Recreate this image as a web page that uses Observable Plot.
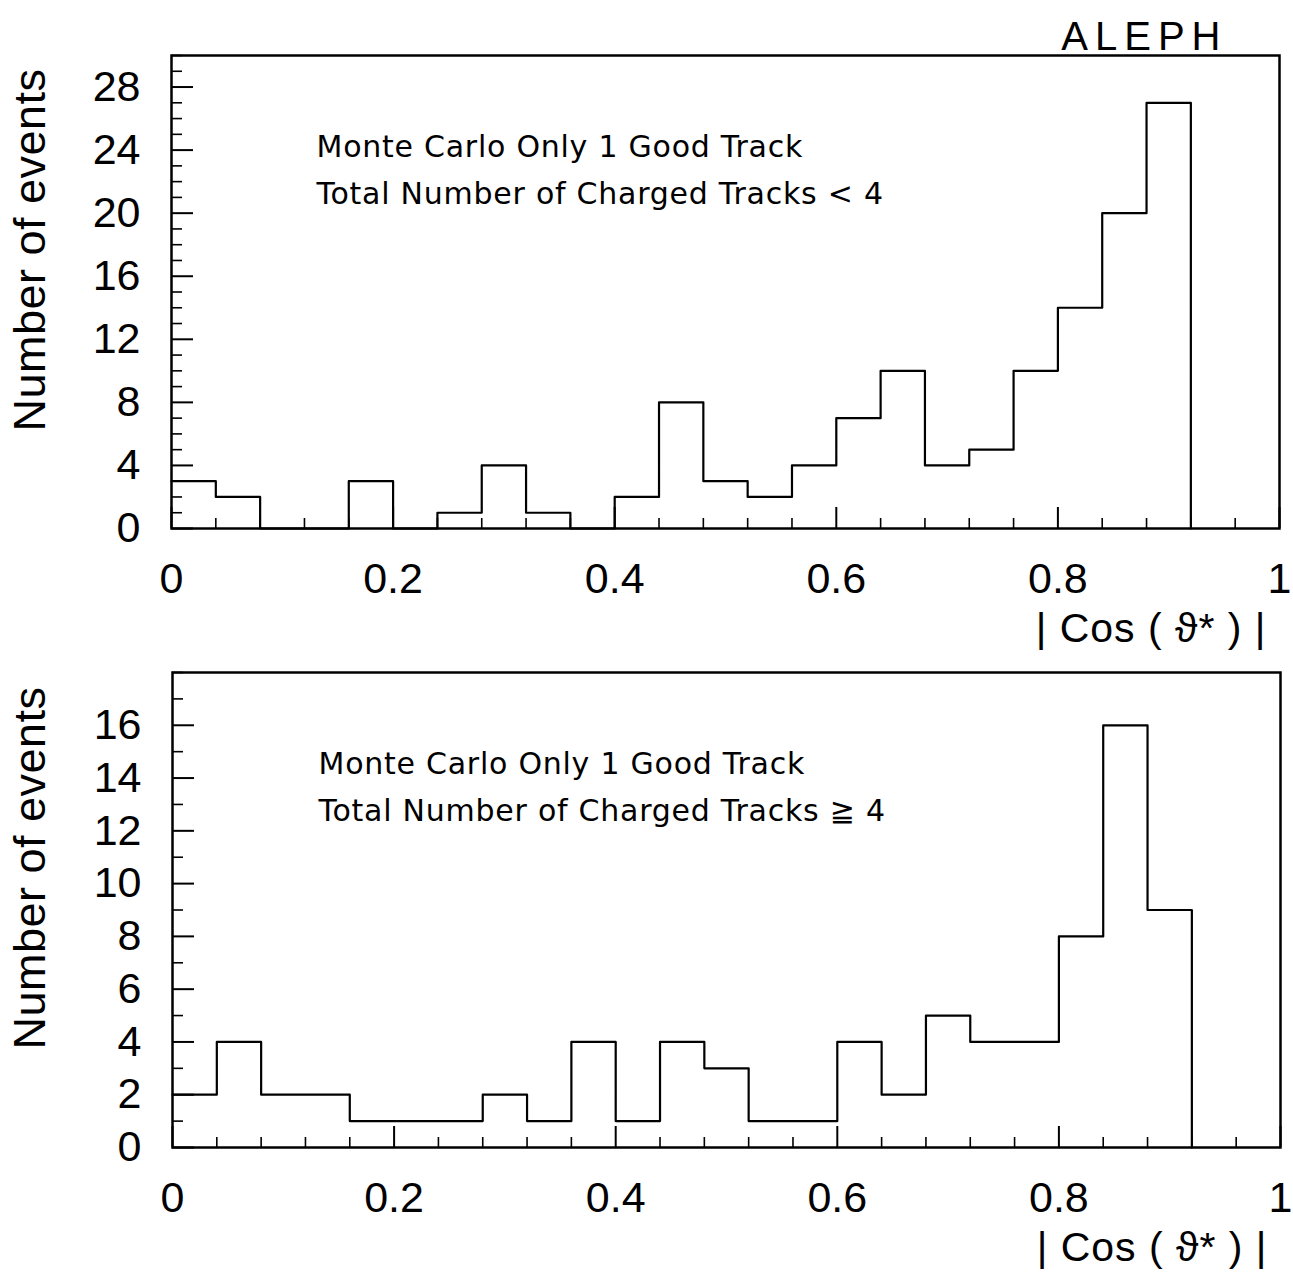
<!DOCTYPE html>
<html>
<head>
<meta charset="utf-8">
<script src="https://cdn.jsdelivr.net/npm/d3@7"></script>
<script src="https://cdn.jsdelivr.net/npm/@observablehq/plot@0.6"></script>
<style>
  html, body { margin: 0; padding: 0; background: #fff; }
  #wrap { width: 1293px; height: 1274px; position: relative; overflow: hidden; }
  #wrap svg { display: block; }
</style>
</head>
<body>
<div id="wrap"></div>
<script>
// ---- data ----
const binEdges = [0, 0.04, 0.08, 0.12, 0.16, 0.20, 0.24, 0.28, 0.32, 0.36, 0.40, 0.44,
                  0.48, 0.52, 0.56, 0.60, 0.64, 0.68, 0.72, 0.76, 0.80, 0.84, 0.88];
const upperEdge = 0.92;
const topCounts    = [3, 2, 0, 0, 3, 0, 1, 4, 1, 0, 2, 8, 3, 2, 4, 7, 10, 4, 5, 10, 14, 20, 27];
const bottomCounts = [2, 4, 2, 2, 1, 1, 1, 2, 1, 4, 1, 4, 3, 1, 1, 4, 2, 5, 4, 4, 8, 16, 9];
const xTickLabels = [0, 0.2, 0.4, 0.6, 0.8, 1];
const topYLabels = [0, 4, 8, 12, 16, 20, 24, 28];
const bottomYLabels = [0, 2, 4, 6, 8, 10, 12, 14, 16];
const topText = "Monte Carlo Only 1 Good Track\nTotal Number of Charged Tracks < 4";
const bottomText = "Monte Carlo Only 1 Good Track\nTotal Number of Charged Tracks \u2267 4";
const yTitle = "Number of events";
const xTitle = "| Cos ( \u03d1* ) |";
const experiment = "ALEPH";

function histData(counts) {
  return binEdges.map((x, i) => ({x, y: counts[i]})).concat([{x: upperEdge, y: 0}]);
}

function panel(o) {
  const W = 1293;
  const pw = W - o.ml - o.mr;
  const ph = o.height - o.mt - o.mb;
  const xMinor = d3.range(0, 1.0001, 0.04).filter(v => Math.abs(v / 0.2 - Math.round(v / 0.2)) > 1e-6);
  const yMinor = d3.range(0, o.yMax + 0.001, 1).filter(v => !o.yMajor.includes(v));
  const marks = [
    Plot.frame({stroke: "#000", strokeWidth: 2.5}),
    Plot.axisY({ticks: o.yMajor, tickSize: 0, tickPadding: 31, fontSize: 43, label: null, tickFormat: d3.format("d")}),
    Plot.axisX({ticks: xTickLabels, tickSize: 0, tickPadding: 34, fontSize: 43, label: null, tickFormat: d => String(d)}),
    Plot.tickY(o.yMajor, {y: d => d, stroke: "#000", strokeWidth: 2, insetRight: pw - 22}),
    Plot.tickY(yMinor, {y: d => d, stroke: "#000", strokeWidth: 1.6, insetRight: pw - 11}),
    Plot.tickX(xTickLabels, {x: d => d, stroke: "#000", strokeWidth: 2, insetTop: ph - 21}),
    Plot.tickX(xMinor, {x: d => d, stroke: "#000", strokeWidth: 1.6, insetTop: ph - 10}),
    Plot.line(histData(o.counts), {x: "x", y: "y", curve: "step-after", stroke: "#000", strokeWidth: 2.2}),
    Plot.text([o.note], {text: d => d, frameAnchor: "top-left", textAnchor: "start", lineAnchor: "top",
      dx: o.noteDx, dy: 68, fontSize: 30, lineHeight: 1.57, fontFamily: "DejaVu Sans", fill: "#000"}),
    Plot.text([yTitle], {text: d => d, frameAnchor: "left", textAnchor: "middle", lineAnchor: "middle",
      rotate: -90, dx: -(o.ml - 30), dy: -42, fontSize: 45, fill: "#000"}),
    Plot.text([xTitle], {text: d => d, frameAnchor: "bottom-right", textAnchor: "end", lineAnchor: "top",
      dx: -13, dy: 84, fontSize: 41, fill: "#000"})
  ];
  if (o.aleph) {
    marks.push(Plot.text([experiment], {text: d => d, frameAnchor: "top-right", textAnchor: "end", lineAnchor: "bottom",
      dx: -52, dy: -6, fontSize: 40, fill: "#000"}));
  }
  const svg = Plot.plot({
    width: W,
    height: o.height,
    marginTop: o.mt, marginBottom: o.mb, marginLeft: o.ml, marginRight: o.mr,
    x: {domain: [0, 1]},
    y: {domain: [0, o.yMax]},
    style: {fontFamily: "Liberation Sans, Arial, sans-serif", fontSize: "43px", color: "#000", background: "#fff"},
    marks
  });
  const s = d3.select(svg);
  const spacing = [
    [t => t.startsWith("Monte"), "0.75px"],
    [t => t === experiment, "7px"],
    [t => t === xTitle, "1px"],
    [t => t === yTitle, "0.5px"]
  ];
  s.selectAll("text").each(function() {
    const t = this.textContent;
    for (const [test, ls] of spacing) if (test(t)) this.setAttribute("letter-spacing", ls);
  });
  return svg;
}

const wrap = document.getElementById("wrap");
wrap.appendChild(panel({counts: topCounts, yMax: 30, yMajor: topYLabels, height: 650,
  mt: 55, mb: 122, ml: 171, mr: 14, note: topText, noteDx: 145, aleph: true}));
wrap.appendChild(panel({counts: bottomCounts, yMax: 18, yMajor: bottomYLabels, height: 624,
  mt: 22, mb: 127, ml: 172, mr: 13, note: bottomText, noteDx: 146, aleph: false}));
</script>
</body>
</html>
